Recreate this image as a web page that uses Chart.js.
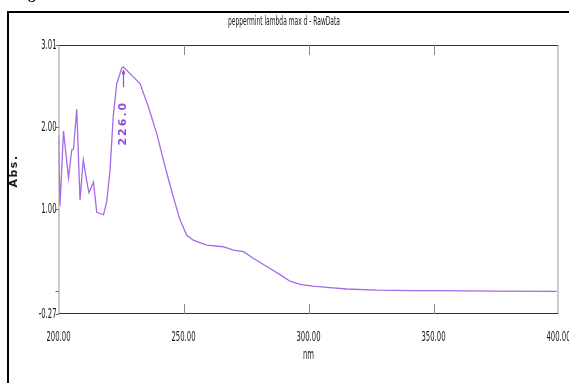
<!DOCTYPE html>
<html>
<head>
<meta charset="utf-8">
<script src="https://cdn.jsdelivr.net/npm/chart.js@4"></script>
<style>
  html, body { margin: 0; padding: 0; background: #fff; }
  canvas { display: block; }
</style>
</head>
<body>
<canvas id="spec" width="569" height="383"></canvas>
<script>
// --- data ---
const wavelengths = [200.0, 200.6, 202.0, 204.0, 205.3, 206.0, 207.3, 208.6, 209.9, 211.7, 212.2, 214.0,
  215.3, 218.0, 219.3, 220.6, 221.9, 223.3, 225.3, 226.0, 229.3, 232.6, 235.9, 239.3, 242.6,
  245.9, 248.6, 251.3, 253.9, 259.3, 265.9, 270.0, 274.0, 277.9, 283.3, 288.6, 292.6, 296.6,
  301.9, 307.3, 315.3, 327.3, 340.6, 351.0, 375.0, 399.3];
const absorbance = [1.91, 1.05, 1.96, 1.39, 1.73, 1.74, 2.23, 1.12, 1.61, 1.28, 1.21, 1.34,
  0.97, 0.94, 1.10, 1.48, 2.14, 2.54, 2.73, 2.74, 2.64, 2.54, 2.26, 1.93, 1.53,
  1.16, 0.88, 0.69, 0.63, 0.57, 0.55, 0.51, 0.49, 0.41, 0.31, 0.21, 0.13, 0.09,
  0.07, 0.055, 0.035, 0.02, 0.014, 0.015, 0.01, 0.006];
const xTicks = [200, 250, 300, 350, 400];
const yTicks = [-0.27, 0, 1.00, 2.00, 3.01];
const yTickLabels = ['-0.27', '', '1.00', '2.00', '3.01'];
const peakNm = 226.0;
const peakAbs = 2.74;
const peakLabel = '226.0';

const chartTitle = 'peppermint lambda max d - RawData';
const xTitle = 'nm';
const yTitle = 'Abs.';

const NARROW = "'Liberation Sans Narrow', 'DejaVu Sans Condensed', sans-serif";
const TICK_FONT = '14px ' + NARROW;

// squeezed text, like the instrument printout
function squeezeText(ctx, txt, x, y, sx, align) {
  ctx.save();
  ctx.translate(x, y);
  ctx.scale(sx, 1);
  ctx.textAlign = align;
  ctx.fillText(txt, 0, 0);
  ctx.restore();
}

// frame, inner ticks, tick labels, titles and peak marker
const decorPlugin = {
  id: 'decor',
  afterDraw(chart) {
    const ctx = chart.ctx;
    const a = chart.chartArea;
    const xs = chart.scales.x, ys = chart.scales.y;
    ctx.save();

    // outer page frame
    ctx.strokeStyle = '#000';
    ctx.lineWidth = 2;
    ctx.strokeRect(8, 12, 700, 700);

    // cut-off "g" from the caption above
    ctx.fillStyle = '#000';
    ctx.font = "bold 15px 'Liberation Serif', serif";
    ctx.textAlign = 'left';
    ctx.textBaseline = 'alphabetic';
    ctx.fillText('g', 28, -1);

    // plot frame
    ctx.lineWidth = 1;
    ctx.strokeStyle = '#333';
    ctx.beginPath();
    ctx.moveTo(a.left, a.top + 0.5); ctx.lineTo(a.right, a.top + 0.5);
    ctx.moveTo(a.left, a.bottom - 0.5); ctx.lineTo(a.right, a.bottom - 0.5);
    ctx.stroke();
    ctx.strokeStyle = '#999';
    ctx.beginPath();
    ctx.moveTo(a.left + 0.5, a.top); ctx.lineTo(a.left + 0.5, a.bottom);
    ctx.moveTo(a.right - 0.5, a.top); ctx.lineTo(a.right - 0.5, a.bottom);
    ctx.stroke();

    // inner x ticks (bottom and top)
    ctx.strokeStyle = '#888';
    ctx.beginPath();
    xs.ticks.forEach(t => {
      if (t.value <= xs.min || t.value >= xs.max) return;
      const px = Math.round(xs.getPixelForValue(t.value)) + 0.5;
      ctx.moveTo(px, a.bottom); ctx.lineTo(px, a.bottom - 10);
      ctx.moveTo(px, a.top); ctx.lineTo(px, a.top + 10);
    });
    ctx.stroke();

    // tick labels from the scales
    ctx.fillStyle = '#1a1a1a';
    ctx.font = TICK_FONT;
    ctx.textBaseline = 'middle';
    const sx = 24 / ctx.measureText('200.00').width;
    xs.ticks.forEach(t => {
      squeezeText(ctx, Number(t.value).toFixed(2), xs.getPixelForValue(t.value), 337, sx, 'center');
    });
    ys.ticks.forEach((t, i) => {
      if (!yTickLabels[i]) return;
      squeezeText(ctx, yTickLabels[i], 56.5, ys.getPixelForValue(t.value), sx, 'right');
    });

    // title
    ctx.font = '13px ' + NARROW;
    const tw = ctx.measureText(chartTitle).width;
    squeezeText(ctx, chartTitle, 284, 22, 112 / tw, 'center');

    // x title
    ctx.font = TICK_FONT;
    squeezeText(ctx, xTitle, (a.left + a.right) / 2, 355, sx, 'center');

    // y title
    ctx.save();
    ctx.translate(14.5, 171);
    ctx.rotate(-Math.PI / 2);
    ctx.textAlign = 'center';
    ctx.font = "bold 11px 'DejaVu Sans', sans-serif";
    ctx.letterSpacing = '1.5px';
    ctx.fillText(yTitle, 0, 0);
    ctx.restore();

    // peak marker
    const px = xs.getPixelForValue(peakNm);
    const py = ys.getPixelForValue(peakAbs);
    ctx.strokeStyle = '#9b45e4';
    ctx.fillStyle = '#9b45e4';
    ctx.lineWidth = 1.2;
    ctx.beginPath();
    ctx.moveTo(px, py + 3); ctx.lineTo(px, py + 20);
    ctx.stroke();
    ctx.beginPath();
    ctx.moveTo(px, py + 2); ctx.lineTo(px - 2, py + 7); ctx.lineTo(px + 2, py + 7);
    ctx.closePath();
    ctx.fill();

    ctx.save();
    ctx.translate(px, py + 56);
    ctx.rotate(-Math.PI / 2);
    ctx.font = "bold 11px 'DejaVu Sans', sans-serif";
    ctx.letterSpacing = '2px';
    ctx.textAlign = 'center';
    ctx.textBaseline = 'middle';
    ctx.fillText(peakLabel, 0, 0);
    ctx.restore();

    ctx.restore();
  }
};

function initChart() {
  const points = wavelengths.map((x, i) => ({ x: x, y: absorbance[i] }));

  new Chart(document.getElementById('spec'), {
    type: 'line',
    data: {
      datasets: [{
        data: points,
        borderColor: '#a46ae8',
        borderWidth: 1.3,
        pointRadius: 0,
        tension: 0,
        fill: false
      }]
    },
    options: {
      responsive: false,
      animation: false,
      devicePixelRatio: 1,
      layout: { padding: { left: 0, right: 10.5, top: 45, bottom: 0 } },
      plugins: { legend: { display: false }, tooltip: { enabled: false } },
      scales: {
        x: {
          type: 'linear',
          min: 200,
          max: 400,
          afterBuildTicks: s => { s.ticks = xTicks.map(v => ({ value: v })); },
          afterFit: s => { s.height = 69; },
          ticks: { display: false },
          grid: { drawOnChartArea: false, drawTicks: false },
          border: { display: false }
        },
        y: {
          type: 'linear',
          min: -0.27,
          max: 3.01,
          afterBuildTicks: s => { s.ticks = yTicks.map(v => ({ value: v })); },
          afterFit: s => { s.width = 58.5; },
          ticks: { display: false },
          grid: { drawOnChartArea: false, drawTicks: true, tickLength: 3, color: '#666' },
          border: { display: false }
        }
      }
    },
    plugins: [decorPlugin]
  });
}

window.onload = initChart;
</script>
</body>
</html>
